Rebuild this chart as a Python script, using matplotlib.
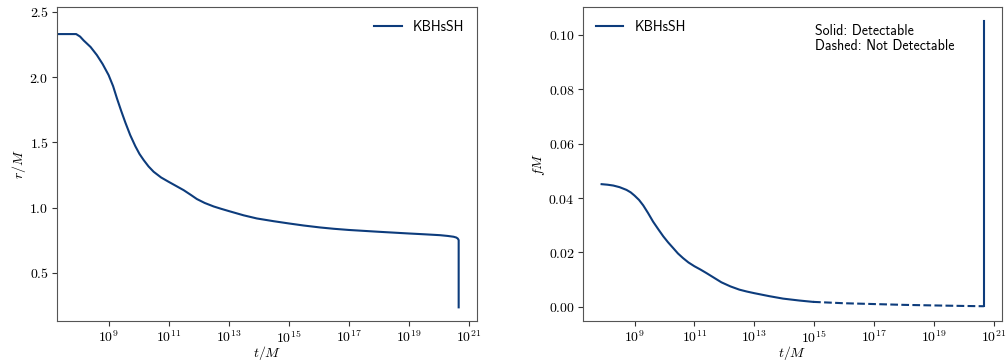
import os
import numpy as np
import matplotlib
matplotlib.use("Agg")
import matplotlib.pyplot as plt
from matplotlib.font_manager import FontProperties
from matplotlib.ticker import FuncFormatter, NullLocator

plt.rcParams["mathtext.fontset"] = "cm"
plt.rcParams["font.size"] = 10

sans = FontProperties(fname=os.path.join(matplotlib.get_data_path(), "fonts", "ttf", "cmss10.ttf"),
                      size=10)

# inspiral radius r/M against log10(t/M)
log_t_r = [7.3, 7.92, 8.05, 8.17, 8.4, 8.61, 8.8, 9.0, 9.15, 9.28, 9.42, 9.56, 9.72,
           9.89, 10.03, 10.17, 10.33, 10.5, 10.75, 11.0, 11.25, 11.5, 11.75, 11.94,
           12.2, 12.5, 12.75, 13.0, 13.5, 13.94, 14.5, 15.0, 15.5, 16.05, 16.5, 17.0,
           18.0, 19.0, 19.5, 20.04, 20.3, 20.49, 20.58, 20.63, 20.66, 20.66]
r_vals = [2.329, 2.329, 2.31, 2.28, 2.23, 2.168, 2.10, 2.015, 1.93, 1.835, 1.74, 1.65,
          1.555, 1.47, 1.41, 1.363, 1.315, 1.274, 1.23, 1.197, 1.165, 1.133, 1.095,
          1.065, 1.035, 1.008, 0.99, 0.973, 0.94, 0.916, 0.895, 0.878, 0.862, 0.847,
          0.837, 0.828, 0.814, 0.801, 0.795, 0.788, 0.782, 0.776, 0.770, 0.762,
          0.750, 0.235]

# GW frequency fM, detectable part
log_t_f_det = [7.90, 8.1, 8.29, 8.5, 8.73, 8.87, 9.0, 9.15, 9.29, 9.45, 9.62, 9.8,
               9.96, 10.12, 10.29, 10.45, 10.62, 10.8, 11.0, 11.2, 11.4, 11.65, 11.9,
               12.2, 12.5, 12.75, 13.0, 13.5, 13.96, 14.5, 14.96]
f_det = [0.0451, 0.0449, 0.0446, 0.0440, 0.0430, 0.0421, 0.0409, 0.0393, 0.0373,
         0.0345, 0.0313, 0.0284, 0.0259, 0.0237, 0.0216, 0.0196, 0.0179, 0.0163,
         0.0149, 0.0137, 0.0124, 0.0107, 0.0090, 0.0075, 0.0063, 0.0056, 0.0050,
         0.0039, 0.0030, 0.0023, 0.0018]
# not detectable part
log_t_f_nd = [14.96, 16.0, 17.0, 18.0, 18.97, 20.0, 20.66]
f_nd = [0.0018, 0.0013, 0.0010, 0.0007, 0.0005, 0.0003, 0.0002]
# plunge
log_t_f_plunge = [20.66, 20.66]
f_plunge = [0.0002, 0.105]

color = "#0d3c7c"
label = "KBHsSH"

fig = plt.figure(figsize=(10.08, 3.64), dpi=100)
ax1 = fig.add_axes([0.0565, 0.118, 0.4167, 0.8626])
ax2 = fig.add_axes([0.5784, 0.118, 0.4157, 0.8626])

ax1.plot(10.0 ** np.array(log_t_r), r_vals, color=color, lw=1.5, label=label)

ax2.plot(10.0 ** np.array(log_t_f_det), f_det, color=color, lw=1.5, label=label)
ax2.plot(10.0 ** np.array(log_t_f_nd), f_nd, color=color, lw=1.5, ls="--")
ax2.plot(10.0 ** np.array(log_t_f_plunge), f_plunge, color=color, lw=1.5)

for ax in (ax1, ax2):
    ax.set_xscale("log")
    ax.set_xlim(10 ** 7.28, 10 ** 21.27)
    ax.set_xticks([1e9, 1e11, 1e13, 1e15, 1e17, 1e19, 1e21])
    ax.xaxis.set_minor_locator(NullLocator())
    ax.xaxis.set_major_formatter(FuncFormatter(lambda v, p: r"$10^{%d}$" % round(np.log10(v))))
    ax.set_xlabel(r"$t/M$", labelpad=-1)
    for s in ax.spines.values():
        s.set_color("#555555")
    ax.tick_params(colors="#333333", labelcolor="black", pad=2.5)

ax1.set_ylim(0.13, 2.536)
ax1.set_yticks([0.5, 1.0, 1.5, 2.0, 2.5])
ax1.yaxis.set_major_formatter(FuncFormatter(lambda v, p: f"${v:.1f}$"))
ax1.set_ylabel(r"$r/M$", labelpad=1)
ax1.legend(loc="upper right", frameon=False, prop=sans)

ax2.set_ylim(-0.00525, 0.11025)
ax2.set_yticks([0.0, 0.02, 0.04, 0.06, 0.08, 0.10])
ax2.yaxis.set_major_formatter(FuncFormatter(lambda v, p: f"${v:.2f}$"))
ax2.set_ylabel(r"$fM$", labelpad=1)
ax2.legend(loc="upper left", frameon=False, prop=sans)
ax2.text(0.553, 0.945, "Solid: Detectable\nDashed: Not Detectable",
         transform=ax2.transAxes, va="top", ha="left", linespacing=1.05,
         fontproperties=sans)

fig.savefig("out.png", dpi=100)
